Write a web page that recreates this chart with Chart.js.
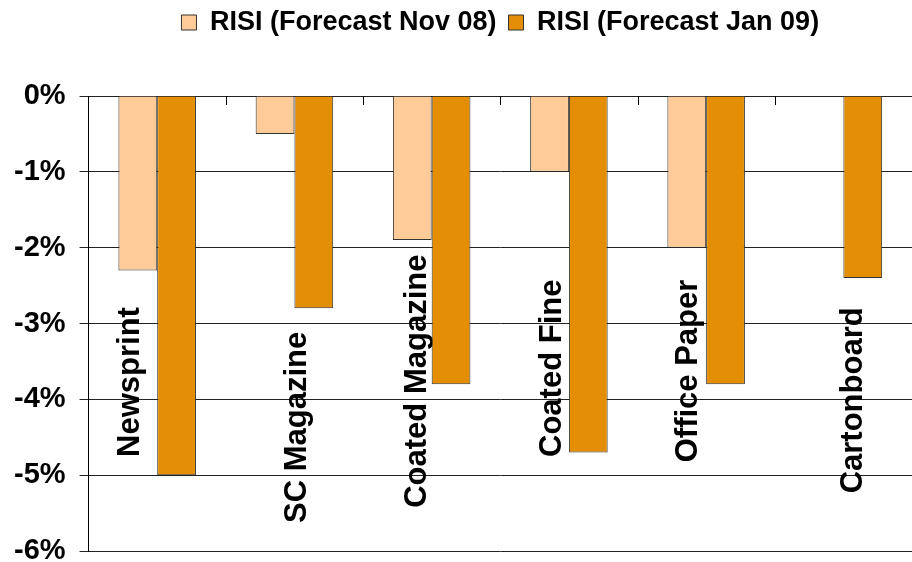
<!DOCTYPE html>
<html>
<head>
<meta charset="utf-8">
<script src="https://cdn.jsdelivr.net/npm/chart.js@4"></script>
<style>
body { margin: 0; background: #fff; }
#wrap { width: 912px; height: 562px; }
</style>
</head>
<body>
<div id="wrap"><canvas id="paperChart" width="912" height="562"></canvas></div>
<script>
const categories = ['Newsprint', 'SC Magazine', 'Coated Magazine', 'Coated Fine', 'Office Paper', 'Cartonboard'];
const forecastNov08 = [-2.3, -0.5, -1.9, -1.0, -2.0, null];
const forecastJan09 = [-5.0, -2.8, -3.8, -4.7, -3.8, -2.4];
const yTicks = [0, -1, -2, -3, -4, -5, -6];

// rotated category names: where each one starts (in % on the y axis) and its shift off the category centre (px)
const labelStart = [-4.76, -5.63, -5.43, -4.76, -4.83, -5.24];
const labelShift = [-27, 3, -14, -16, -18, 10];

const font = 'Liberation Sans, Arial, sans-serif';

const catLabels = {
    id: 'catLabels',
    beforeDatasetsDraw(chart) {
        const c = chart.ctx, x = chart.scales.x, y = chart.scales.y;
        c.save();
        c.font = 'bold 31px ' + font;
        c.fillStyle = '#000';
        c.textAlign = 'left';
        c.textBaseline = 'middle';
        categories.forEach((name, i) => {
            c.save();
            c.translate(x.getPixelForValue(i) + labelShift[i], y.getPixelForValue(labelStart[i]));
            c.rotate(-Math.PI / 2);
            c.fillText(name, 0, 0);
            c.restore();
        });
        c.restore();
    },
    afterDatasetsDraw(chart) {
        // little ticks hanging down from the 0% line between categories
        const c = chart.ctx, x = chart.scales.x, y = chart.scales.y;
        const y0 = y.getPixelForValue(0);
        c.save();
        c.strokeStyle = '#000';
        c.lineWidth = 1;
        for (let i = 1; i < categories.length; i++) {
            const px = Math.round((x.getPixelForValue(i - 1) + x.getPixelForValue(i)) / 2) + 0.5;
            c.beginPath();
            c.moveTo(px, y0);
            c.lineTo(px, y0 + 9);
            c.stroke();
        }
        c.restore();
    }
};

const legendGap = {
    id: 'legendGap',
    beforeInit(chart) {
        const fit = chart.legend.fit;
        chart.legend.fit = function() {
            fit.bind(chart.legend)();
            this.height += 50;
        };
    }
};

const ctx = document.getElementById('paperChart').getContext('2d');

new Chart(ctx, {
    type: 'bar',
    data: {
        labels: categories,
        datasets: [{
            label: 'RISI (Forecast Nov 08)',
            data: forecastNov08,
            backgroundColor: '#FFCC99',
            borderColor: '#333333',
            borderWidth: 1
        }, {
            label: 'RISI (Forecast Jan 09)',
            data: forecastJan09,
            backgroundColor: '#E38E04',
            borderColor: '#333333',
            borderWidth: 1
        }]
    },
    options: {
        responsive: false,
        animation: false,
        layout: { padding: { left: 0, right: -4, top: -3, bottom: 11 } },
        datasets: {
            bar: { categoryPercentage: 0.565, barPercentage: 1 }
        },
        plugins: {
            tooltip: { enabled: false },
            legend: {
                position: 'top',
                fullSize: false,
                labels: {
                    boxWidth: 15,
                    boxHeight: 15,
                    padding: 12,
                    color: '#000',
                    font: { family: font, size: 27, weight: 'bold' }
                }
            }
        },
        scales: {
            x: { display: false },
            y: {
                min: -6,
                max: 0,
                afterBuildTicks: s => { s.ticks = yTicks.map(v => ({ value: v })); },
                afterFit: s => { s.paddingTop = 0; s.paddingBottom = 0; },
                ticks: {
                    callback: v => v + '%',
                    color: '#000',
                    padding: 14,
                    font: { family: font, size: 29, weight: 'bold' }
                },
                grid: { color: '#222', lineWidth: 1, tickLength: 9 },
                border: { color: '#000', width: 1 }
            }
        }
    },
    plugins: [catLabels, legendGap]
});
</script>
</body>
</html>
